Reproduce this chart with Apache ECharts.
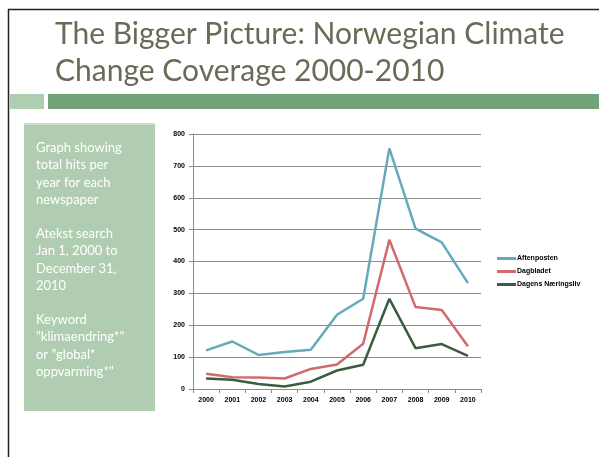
<!DOCTYPE html>
<html>
<head>
<meta charset="utf-8">
<script src="https://cdn.jsdelivr.net/npm/echarts@6/dist/echarts.min.js"></script>
<style>
  html, body { margin: 0; padding: 0; background: #fff; }
  #chart { width: 599px; height: 457px; }
</style>
</head>
<body>
<div id="chart"></div>
<script>
// data
const years = ['2000', '2001', '2002', '2003', '2004', '2005', '2006', '2007', '2008', '2009', '2010'];
const aftenposten = [121, 149, 107, 116, 123, 233, 283, 755, 503, 460, 332];
const dagbladet = [48, 37, 36, 33, 63, 77, 142, 468, 257, 248, 134];
const dagensNaeringsliv = [33, 29, 16, 8, 23, 58, 76, 283, 128, 141, 104];
const seriesNames = ['Aftenposten', 'Dagbladet', 'Dagens Næringsliv'];
const seriesColors = ['#66a9bb', '#d16a6c', '#3b5c40'];

const titleLines = ['The Bigger Picture: Norwegian Climate', 'Change Coverage 2000-2010'];
const sideText = [
    ['Graph showing', 'total hits per', 'year for each', 'newspaper'],
    ['Atekst search', 'Jan 1, 2000 to', 'December 31,', '2010'],
    ['Keyword', '"klimaendring*"', 'or "global*', 'oppvarming*"']
];

let myChart = echarts.init(document.getElementById('chart'));

// slide decoration
let graphics = [
    { type: 'line', shape: { x1: 8.5, y1: 9, x2: 8.5, y2: 457 }, style: { stroke: '#222', lineWidth: 1.5 } },
    { type: 'line', shape: { x1: 8, y1: 9.5, x2: 599, y2: 9.5 }, style: { stroke: '#222', lineWidth: 1.5 } },
    { type: 'rect', shape: { x: 9, y: 94, width: 35, height: 15 }, style: { fill: '#afcdb1' } },
    { type: 'rect', shape: { x: 48, y: 94, width: 551, height: 15 }, style: { fill: '#72a378' } },
    { type: 'rect', shape: { x: 24, y: 123, width: 131, height: 288 }, style: { fill: '#b0cdb1' } },
    { type: 'line', shape: { x1: 24, y1: 124, x2: 155, y2: 124 }, style: { stroke: '#e6efe6', lineWidth: 1 } }
];
titleLines.forEach(function (t, i) {
    graphics.push({
        type: 'text', left: 55, top: 19 + i * 37,
        style: { text: t, fill: '#6a6b56', font: '30px Lato' }
    });
});
sideText.forEach(function (para, p) {
    para.forEach(function (line, i) {
        graphics.push({
            type: 'text', left: 36, top: 141 + p * 86 + i * 17.5,
            style: { text: line, fill: '#ffffff', font: '13px Lato' }
        });
    });
});

let option = {
    animation: false,
    graphic: graphics,
    grid: {
        left: 193,
        right: 118,
        top: 134,
        bottom: 68
    },
    legend: {
        data: seriesNames,
        orient: 'vertical',
        left: 492,
        top: 250,
        itemWidth: 19,
        itemHeight: 3,
        itemGap: 6,
        icon: 'rect',
        textStyle: { fontSize: 7, fontWeight: 'bold', color: '#000', fontFamily: 'Arial', padding: [0, 0, 0, -4] }
    },
    xAxis: {
        type: 'category',
        data: years,
        boundaryGap: true,
        axisLine: { lineStyle: { color: '#8c8c8c', width: 1 } },
        axisTick: { show: true, length: 4, lineStyle: { color: '#8c8c8c' } },
        axisLabel: { fontSize: 7, fontWeight: 'bold', color: '#000', fontFamily: 'Arial', margin: 8 }
    },
    yAxis: {
        type: 'value',
        min: 0,
        max: 800,
        interval: 100,
        axisLine: { show: true, lineStyle: { color: '#8c8c8c' } },
        axisTick: { show: true, length: 4, lineStyle: { color: '#8c8c8c' } },
        splitLine: { lineStyle: { color: '#8c8c8c', width: 1.2 } },
        axisLabel: { fontSize: 7, fontWeight: 'bold', color: '#000', fontFamily: 'Arial', margin: 8 }
    },
    series: [
        { name: seriesNames[0], type: 'line', data: aftenposten },
        { name: seriesNames[1], type: 'line', data: dagbladet },
        { name: seriesNames[2], type: 'line', data: dagensNaeringsliv }
    ].map(function (s, i) {
        s.symbol = 'none';
        s.color = seriesColors[i];
        s.lineStyle = { width: 2.5, color: seriesColors[i] };
        return s;
    })
};
myChart.setOption(option);
</script>
</body>
</html>
